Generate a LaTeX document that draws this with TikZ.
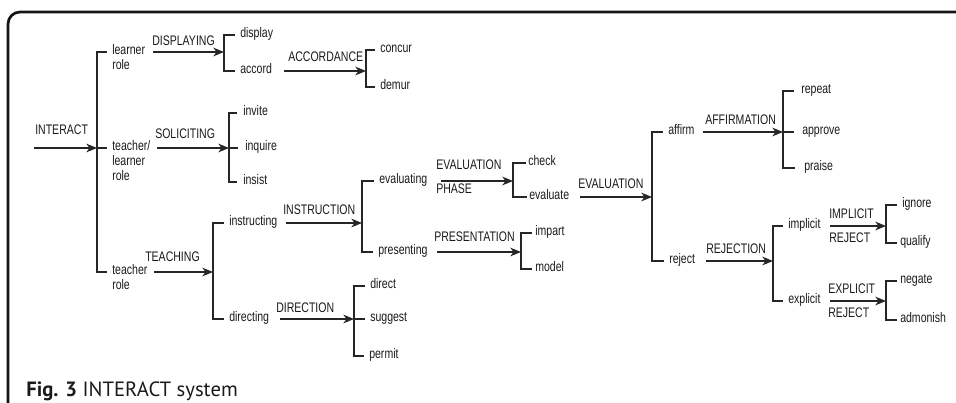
\documentclass[tikz,border=0pt]{standalone}
\usepackage{fontspec}
\usetikzlibrary{arrows.meta}
\newfontfamily\narrowsans[FakeStretch=0.76]{Liberation Sans}
\newfontfamily\captionsans{PT Sans}
\newcommand\lblfont{\narrowsans\fontsize{10.4pt}{11.25pt}\selectfont}
\newcommand\capfont{\captionsans\fontsize{15.5pt}{18pt}\selectfont}
\newcommand\twolines[2]{\begin{tabular}[t]{@{}l@{}}#1\\#2\end{tabular}}
\newcommand\threelines[3]{\begin{tabular}[t]{@{}l@{}}#1\\#2\\#3\end{tabular}}
\definecolor{ink}{HTML}{1A1A1A}
\definecolor{wire}{HTML}{262626}
\definecolor{frame}{HTML}{151515}

\tikzset{
  lbl/.style={anchor=mid west, inner sep=0pt, font=\lblfont, text=ink},
  link/.style={draw=wire, line width=1pt},
  arr/.style={link, -{Stealth[length=8pt,width=6.5pt,inset=2.4pt]}},
  tick/.style={xshift=-3.5pt},
}

\begin{document}
\begin{tikzpicture}[x=0.75pt,y=-0.75pt]
\useasboundingbox (0,0) rectangle (956,403);

% frame
\draw[frame, line width=2pt, rounded corners=9pt] (8,404) -- (8,12) -- (957,12);

% root
\coordinate (start) at (34,148);
\coordinate (rootB) at (97,148);
\node[lbl] (interact) at (35,132) {INTERACT};
\node[lbl] (lrole)  at (112,52)  {\twolines{learner}{role}};
\node[lbl] (tlrole) at (112,148) {\threelines{teacher/}{learner}{role}};
\node[lbl] (trole)  at (112,272) {\twolines{teacher}{role}};
\draw[arr] (start) -- (rootB);
\draw[link] ([tick]lrole.mid west) -| (rootB) |- ([tick]trole.mid west);
\draw[link] (rootB) -- ([tick]tlrole.mid west);

% displaying
\coordinate (dispB) at (224,52);
\node[lbl] (displaying) at (152,43) {DISPLAYING};
\node[lbl] (display) at (240,35) {display};
\node[lbl] (accord)  at (240,71) {accord};
\draw[arr] ([xshift=6pt]lrole.mid east) -- (dispB);
\draw[link] ([tick]display.mid west) -| (dispB) |- ([tick]accord.mid west);

% accordance
\coordinate (accB) at (366,71);
\node[lbl] (accordance) at (288,59) {ACCORDANCE};
\node[lbl] (concur) at (380,50) {concur};
\node[lbl] (demur)  at (380,87) {demur};
\draw[arr] ([xshift=9pt]accord.mid east) -- (accB);
\draw[link] ([tick]concur.mid west) -| (accB) |- ([tick]demur.mid west);

% soliciting
\coordinate (solB) at (229,148);
\node[lbl] (soliciting) at (155,136) {SOLICITING};
\node[lbl] (invite)  at (243,113) {invite};
\node[lbl] (inquire) at (245,148) {inquire};
\node[lbl] (insist)  at (243,182) {insist};
\draw[arr] ([xshift=4.5pt]tlrole.mid east) -- (solB);
\draw[link] ([xshift=-4.5pt]invite.mid west) -| (solB) |- ([xshift=-4.5pt]insist.mid west);
\draw[link] (solB) -- ([xshift=-5.5pt]inquire.mid west);

% teaching
\coordinate (teachB) at (213,272);
\node[lbl] (teaching) at (145,259) {TEACHING};
\node[lbl] (instructing) at (229,223) {instructing};
\node[lbl] (directing)   at (229,319) {directing};
\draw[arr] ([xshift=5pt]trole.mid east) -- (teachB);
\draw[link] ([tick]instructing.mid west) -| (teachB) |- ([tick]directing.mid west);

% instruction
\coordinate (instB) at (362,223);
\node[lbl] (instruction) at (283,212) {INSTRUCTION};
\node[lbl] (evaluating) at (379,181) {evaluating};
\node[lbl] (presenting) at (378,252) {presenting};
\draw[arr] ([xshift=6pt]instructing.mid east) -- (instB);
\draw[link] ([tick]evaluating.mid west) -| (instB) |- ([tick]presenting.mid west);

% evaluation phase
\coordinate (phaseB) at (513,181);
\node[lbl] (evalphase1) at (436,167) {EVALUATION};
\node[lbl] (evalphase2) at (436,191) {PHASE};
\node[lbl] (check)    at (528,163) {check};
\node[lbl] (evaluate) at (529,197) {evaluate};
\draw[arr] ([xshift=10pt]evaluating.mid east) -- (phaseB);
\draw[link] ([xshift=-1.5pt]check.mid west) -| (phaseB) |- ([xshift=-1.5pt]evaluate.mid west);

% presentation
\coordinate (presB) at (521,252);
\node[lbl] (presentation) at (434,239) {PRESENTATION};
\node[lbl] (impart) at (535,233) {impart};
\node[lbl] (model)  at (535,269) {model};
\draw[arr] ([xshift=7pt]presenting.mid east) -- (presB);
\draw[link] ([xshift=-2.5pt]impart.mid west) -| (presB) |- ([xshift=-2.5pt]model.mid west);

% direction
\coordinate (dirB) at (354,319);
\node[lbl] (direction) at (276,310) {DIRECTION};
\node[lbl] (direct)  at (370,286) {direct};
\node[lbl] (suggest) at (370,319) {suggest};
\node[lbl] (permit)  at (369,356) {permit};
\draw[arr] ([xshift=8pt]directing.mid east) -- (dirB);
\draw[link] ([tick]direct.mid west) -| (dirB) |- ([tick]permit.mid west);
\draw[link] (dirB) -- ([tick]suggest.mid west);

% evaluation
\coordinate (evalB) at (652,197);
\node[lbl] (evaluation) at (578,186) {EVALUATION};
\node[lbl] (affirm) at (668,132) {affirm};
\node[lbl] (reject) at (669,261) {reject};
\draw[arr] ([xshift=8pt]evaluate.mid east) -- (evalB);
\draw[link] ([tick]affirm.mid west) -| (evalB) |- ([tick]reject.mid west);

% affirmation
\coordinate (affB) at (783,132);
\node[lbl] (affirmation) at (705,122) {AFFIRMATION};
\node[lbl] (repeat)  at (801,91)  {repeat};
\node[lbl] (approve) at (802,132) {approve};
\node[lbl] (praise)  at (804,168) {praise};
\draw[arr] ([xshift=6pt]affirm.mid east) -- (affB);
\draw[link] ([xshift=-5pt]repeat.mid west) -| (affB) |- ([xshift=-7pt]praise.mid west);
\draw[link] (affB) -- ([xshift=-6pt]approve.mid west);

% rejection
\coordinate (rejB) at (773,261);
\node[lbl] (rejection) at (706,251) {REJECTION};
\node[lbl] (implicit) at (788,226) {implicit};
\node[lbl] (explicit) at (788,301) {explicit};
\draw[arr] ([xshift=8pt]reject.mid east) -- (rejB);
\draw[link] ([tick]implicit.mid west) -| (rejB) |- ([tick]explicit.mid west);

% implicit reject
\coordinate (impB) at (886,226);
\node[lbl] (impl1) at (829,216) {IMPLICIT};
\node[lbl] (impl2) at (829,240) {REJECT};
\node[lbl] (ignore)  at (902,205) {ignore};
\node[lbl] (qualify) at (900,243) {qualify};
\draw[arr] ([xshift=7pt]implicit.mid east) -- (impB);
\draw[link] ([xshift=-4pt]ignore.mid west) -| (impB) |- ([xshift=-2.5pt]qualify.mid west);

% explicit reject
\coordinate (expB) at (886,301);
\node[lbl] (expl1) at (828,291) {EXPLICIT};
\node[lbl] (expl2) at (828,315) {REJECT};
\node[lbl] (negate)   at (900,281) {negate};
\node[lbl] (admonish) at (900,320) {admonish};
\draw[arr] ([xshift=7pt]explicit.mid east) -- (expB);
\draw[link] ([xshift=-2.5pt]negate.mid west) -| (expB) |- ([xshift=-2.5pt]admonish.mid west);

% caption
\node[anchor=base west, inner sep=0pt, font=\capfont, text=ink] (caption) at (26,396)
  {\textbf{Fig. 3} INTERACT system};
\end{tikzpicture}
\end{document}
